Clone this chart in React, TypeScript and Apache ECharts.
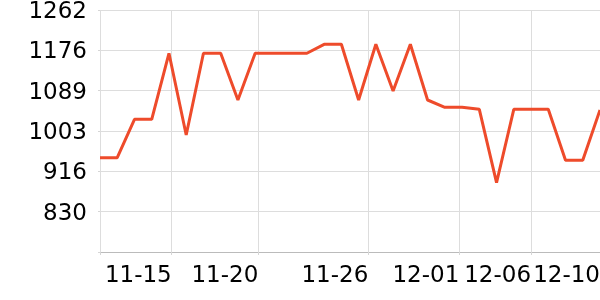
import React, { useEffect, useRef } from "react";
import * as echarts from "echarts";

// Daily observations, 11-11 .. 12-10
const dates = [
  "11-11", "11-12", "11-13", "11-14", "11-15", "11-16", "11-17", "11-18", "11-19", "11-20",
  "11-21", "11-22", "11-23", "11-24", "11-25", "11-26", "11-27", "11-28", "11-29", "11-30",
  "12-01", "12-02", "12-03", "12-04", "12-05", "12-06", "12-07", "12-08", "12-09", "12-10",
];
const values = [
  945.6, 945.6, 1027.9, 1027.9, 1169.3, 994.2, 1169.3, 1169.3, 1069.2, 1169.3,
  1169.3, 1169.3, 1169.3, 1188.5, 1188.5, 1069.2, 1188.5, 1088.5, 1188.5, 1069.2,
  1053.6, 1053.6, 1049.3, 892.1, 1049.3, 1049.3, 1049.3, 940.0, 940.0, 1047.8,
];

const xTickDays = [0, 4.16, 9.18, 15.56, 20.84, 25, 29];
const xTickLabels = ["", "11-15", "11-20", "11-26", "12-01", "12-06", "12-10"];

// y-axis range and ticks
const yMin = 743.6;
const yMax = 1262;
const yTicks = [743.6, 829.9, 916.3, 1002.7, 1089.1, 1175.6, 1262];
const yLabels = yTicks.slice(1);

export default function App() {
  const ref = useRef<HTMLDivElement>(null);

  useEffect(() => {
    if (!ref.current) return;
    const chart = echarts.init(ref.current, undefined, { renderer: "svg" });
    const seriesData = values.map((v, i) => [i, v]);
    const font = "DejaVu Sans";
    const labelFor = (val: number) => {
      let best = 0;
      for (let i = 0; i < xTickDays.length; i++) {
        if (Math.abs(xTickDays[i] - val) < Math.abs(xTickDays[best] - val)) best = i;
      }
      return xTickLabels[best];
    };
    chart.setOption({
      animation: false,
      grid: {
        left: 100,
        right: 0,
        top: 10,
        bottom: 48,
        containLabel: false,
        outerBoundsMode: "none",
      },
      xAxis: {
        type: "value",
        min: 0,
        max: dates.length - 1,
        axisLine: { show: true, lineStyle: { color: "#bbbbbb", width: 1 } },
        axisTick: {
          show: true,
          length: 3,
          customValues: xTickDays,
          lineStyle: { color: "#d6d6d6" },
        },
        splitLine: { show: true, lineStyle: { color: "#dddddd", width: 1 } },
        axisLabel: {
          customValues: xTickDays.slice(1),
          showMinLabel: true,
          showMaxLabel: true,
          hideOverlap: false,
          align: "right",
          margin: 10,
          fontSize: 23,
          fontFamily: font,
          color: "#000",
          formatter: (val: number) => labelFor(val),
        },
      },
      yAxis: {
        type: "value",
        min: yMin,
        max: yMax,
        axisLine: { show: false },
        axisTick: {
          show: true,
          length: 2,
          customValues: yTicks,
          lineStyle: { color: "#d6d6d6" },
        },
        splitLine: { show: true, lineStyle: { color: "#dddddd", width: 1 } },
        axisLabel: {
          customValues: yLabels,
          showMinLabel: true,
          showMaxLabel: true,
          margin: 13,
          fontSize: 23,
          lineHeight: 18,
          fontFamily: font,
          color: "#000",
          formatter: (val: number) => String(Math.round(val)),
        },
      },
      series: [
        {
          type: "line",
          data: seriesData,
          showSymbol: false,
          symbol: "none",
          lineStyle: { color: "#ee4b2b", width: 3 },
          itemStyle: { color: "#ee4b2b" },
        },
      ],
    });
    return () => chart.dispose();
  }, []);

  return (
    <div
      ref={ref}
      style={{ position: "fixed", left: 0, top: 0, width: 600, height: 300 }}
    />
  );
}
